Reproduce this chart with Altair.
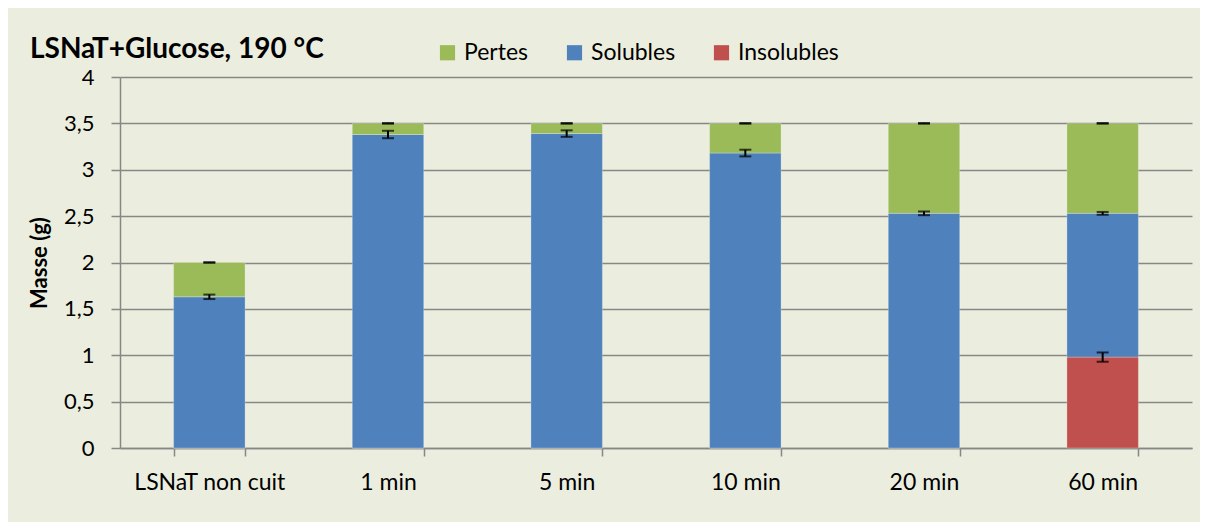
import altair as alt
import pandas as pd

categories = ["LSNaT non cuit", "1 min", "5 min", "10 min", "20 min", "60 min"]
insolubles = [0.0, 0.0, 0.0, 0.0, 0.0, 0.98]
solubles = [1.63, 3.38, 3.39, 3.18, 2.53, 1.55]
pertes = [0.37, 0.12, 0.11, 0.32, 0.97, 0.97]
err_insolubles = [0.0, 0.0, 0.0, 0.0, 0.0, 0.05]
err_solubles = [0.024, 0.04, 0.035, 0.036, 0.02, 0.015]
err_pertes = [0.004, 0.004, 0.004, 0.004, 0.004, 0.004]

series = ["Pertes", "Solubles", "Insolubles"]
colors = ["#9BBB59", "#4F81BD", "#C0504D"]
stack_rank = {"Insolubles": 0, "Solubles": 1, "Pertes": 2}
title_text = ["LSNaT+Glucose, 190 °C"]

rows = []
for i, c in enumerate(categories):
    for s, vals in (("Insolubles", insolubles), ("Solubles", solubles), ("Pertes", pertes)):
        rows.append({"cat": c, "serie": s, "val": vals[i], "rank": stack_rank[s]})
df = pd.DataFrame(rows)

err_rows = []
for i, c in enumerate(categories):
    top_ins = insolubles[i]
    top_sol = top_ins + solubles[i]
    top_tot = top_sol + pertes[i]
    if insolubles[i] > 0:
        err_rows.append({"cat": c, "lo": top_ins - err_insolubles[i], "hi": top_ins + err_insolubles[i]})
    err_rows.append({"cat": c, "lo": top_sol - err_solubles[i], "hi": top_sol + err_solubles[i]})
    err_rows.append({"cat": c, "lo": top_tot - err_pertes[i], "hi": top_tot + err_pertes[i]})
edf = pd.DataFrame(err_rows)

FONT = "Lato"
GRID = "#878787"

x_enc = alt.X(
    "cat:N", sort=categories, title=None,
    scale=alt.Scale(paddingInner=0.6, paddingOuter=0.3),
    axis=alt.Axis(labelAngle=0, labelFont=FONT, labelFontSize=23, labelColor="#000000",
                  labelPadding=15, tickSize=8, tickColor=GRID, domainColor=GRID,
                  domainWidth=1.5, tickWidth=1.5, tickBand="extent", grid=False),
)

bars = alt.Chart(df).mark_bar(stroke="#FFFFFF", strokeOpacity=0.25, strokeWidth=1).encode(
    x=x_enc,
    y=alt.Y("val:Q", stack="zero", title="Masse (g)",
            scale=alt.Scale(domain=[0, 4], nice=False),
            axis=alt.Axis(values=[0, 0.5, 1, 1.5, 2, 2.5, 3, 3.5, 4],
                          format="~g",
                          labelExpr="replace(datum.label, '.', ',')",
                          labelFont=FONT, labelFontSize=22, labelColor="#000000",
                          labelPadding=17, tickSize=9, tickColor=GRID, tickWidth=1.5,
                          domainColor=GRID, domainWidth=1.5,
                          grid=True, gridColor=GRID, gridWidth=1.5,
                          titleFont=FONT, titleFontSize=22, titleFontWeight="bold",
                          titleColor="#000000", titlePadding=12)),
    color=alt.Color("serie:N", scale=alt.Scale(domain=series, range=colors),
                    legend=alt.Legend(title=None, orient="none", direction="horizontal",
                                      legendX=316, legendY=-36,
                                      symbolType="square", symbolSize=230,
                                      symbolStrokeWidth=0, symbolOpacity=1,
                                      labelFont=FONT, labelFontSize=23,
                                      labelColor="#000000", labelOffset=5,
                                      columnPadding=34)),
    order=alt.Order("rank:Q", sort="ascending"),
)

rules = alt.Chart(edf).mark_rule(color="#000000", strokeWidth=2).encode(
    x=alt.X("cat:N", sort=categories), y="lo:Q", y2="hi:Q")
caps_lo = alt.Chart(edf).mark_tick(color="#000000", size=12, thickness=2).encode(
    x=alt.X("cat:N", sort=categories), y="lo:Q")
caps_hi = alt.Chart(edf).mark_tick(color="#000000", size=12, thickness=2).encode(
    x=alt.X("cat:N", sort=categories), y="hi:Q")

title = alt.Chart(pd.DataFrame({"t": title_text})).mark_text(
    align="left", baseline="alphabetic", font=FONT, fontSize=28,
    fontWeight="bold", color="#000000").encode(
    text="t:N", x=alt.value(-90), y=alt.value(-19))

chart = alt.layer(bars, rules, caps_lo, caps_hi, title).properties(
    width=1072, height=371,
    background="#EBEEDE",
    padding={"left": 112, "top": 69, "right": 8, "bottom": 74},
    autosize=alt.AutoSizeParams(type="none"),
).configure_view(stroke=None).configure_axisX(labelBaseline="top")

chart.save("out.html", embed_options={"renderer": "svg", "actions": False})
